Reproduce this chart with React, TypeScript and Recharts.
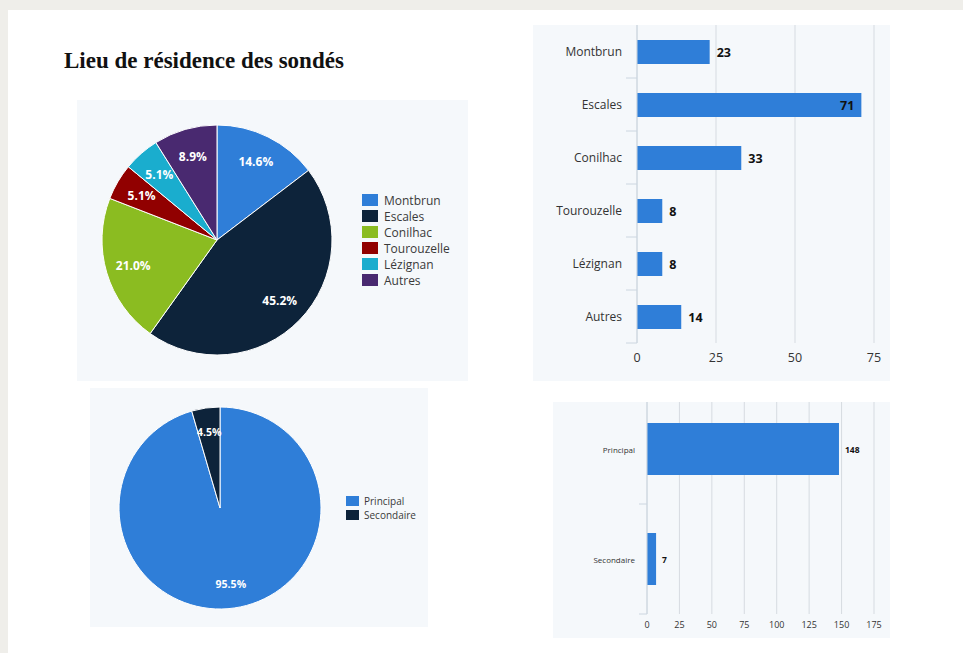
import React from 'react';
import {
  PieChart,
  Pie,
  Cell,
  Legend,
  BarChart,
  Bar,
  XAxis,
  YAxis,
  CartesianGrid,
  LabelList
} from 'recharts';

// lieu de résidence
const communes = ['Montbrun', 'Escales', 'Conilhac', 'Tourouzelle', 'Lézignan', 'Autres'];
const communeCounts = [23, 71, 33, 8, 8, 14];
const communeTicks = [0, 25, 50, 75];

// type de résidence
const residenceTypes = ['Principal', 'Secondaire'];
const residenceCounts = [148, 7];
const residenceTicks = [0, 25, 50, 75, 100, 125, 150, 175];

const palette = ['#2f7ed8', '#0d233a', '#8bbc21', '#910000', '#1aadce', '#492970'];

const communeData = communes.map((name, i) => ({ name, value: communeCounts[i] }));
const residenceData = residenceTypes.map((name, i) => ({ name, value: residenceCounts[i] }));

const FONT = '"Open Sans", sans-serif';
const PANEL_BG = '#f5f8fb';
const GRID = '#d6dbe1';

const pieLabel = (fontSize: number, k: number) => (props: any) => {
  const { cx, cy, midAngle, outerRadius, percent } = props;
  const rad = Math.PI / 180;
  const r = outerRadius * k;
  const x = cx + r * Math.cos(-midAngle * rad);
  const y = cy + r * Math.sin(-midAngle * rad);
  return (
    <text
      x={x}
      y={y}
      fill="#fff"
      fontSize={fontSize}
      fontWeight={700}
      fontFamily={FONT}
      textAnchor="middle"
      dominantBaseline="central"
    >
      {(percent * 100).toFixed(1)}%
    </text>
  );
};

// legend keeps the data order (recharts sorts by name otherwise)
const legendContent = (order: string[], sw: number, sh: number, fontSize: number, rowH: number, gap: number) => (props: any) => {
  const items = [...(props.payload || [])].sort((a: any, b: any) => order.indexOf(a.value) - order.indexOf(b.value));
  return (
    <div style={{ fontFamily: FONT }}>
      {items.map((e: any) => (
        <div key={e.value} style={{ display: 'flex', alignItems: 'center', height: rowH }}>
          <span style={{ width: sw, height: sh, background: e.color, marginRight: gap, display: 'inline-block' }} />
          <span style={{ fontSize, lineHeight: `${rowH - 1}px`, color: '#3a3a3a' }}>{e.value}</span>
        </div>
      ))}
    </div>
  );
};

const categoryTick = (fontSize: number, tickLen: number, gap: number, band: number) => (props: any) => {
  const { x, y, payload } = props;
  return (
    <g>
      <line x1={x - tickLen} x2={x} y1={y + band / 2} y2={y + band / 2} stroke="#ccd6e0" />
      <text
        x={x - gap}
        y={y}
        textAnchor="end"
        dominantBaseline="central"
        fontSize={fontSize}
        fontFamily={FONT}
        fill="#333"
      >
        {payload.value}
      </text>
    </g>
  );
};

const valueLabel = (fontSize: number, gap: number, max: number) => (props: any) => {
  const { x, y, width, height, value } = props;
  const inside = value / max > 0.9;
  return (
    <text
      x={inside ? x + width - gap : x + width + gap}
      y={y + height / 2}
      textAnchor={inside ? 'end' : 'start'}
      dominantBaseline="central"
      fontSize={fontSize}
      fontWeight={700}
      fontFamily={FONT}
      fill="#111"
    >
      {value}
    </text>
  );
};

export default function App() {
  return (
    <div style={{ position: 'fixed', left: 0, top: 0, width: 963, height: 653, background: '#efeeea', overflow: 'hidden' }}>
      <div style={{ position: 'absolute', left: 8, top: 10, width: 955, height: 643, background: '#fff' }} />

      <div
        style={{
          position: 'absolute',
          left: 64,
          top: 49,
          fontFamily: '"Liberation Serif", serif',
          fontWeight: 700,
          fontSize: 23,
          lineHeight: '23px',
          color: '#111',
          whiteSpace: 'nowrap'
        }}
      >
        Lieu de résidence des sondés
      </div>

      {/* camembert communes */}
      <div style={{ position: 'absolute', left: 77, top: 100, width: 391, height: 281, background: PANEL_BG }}>
        <PieChart width={391} height={281} margin={{ top: 0, right: 0, bottom: 0, left: 0 }}>
          <Pie
            data={communeData}
            dataKey="value"
            nameKey="name"
            cx={140}
            cy={140}
            outerRadius={115}
            startAngle={90}
            endAngle={-270}
            stroke="#fff"
            strokeWidth={1}
            labelLine={false}
            label={pieLabel(12, 0.76)}
            isAnimationActive={false}
          >
            {communeData.map((d, i) => (
              <Cell key={d.name} fill={palette[i]} />
            ))}
          </Pie>
          <Legend
            layout="vertical"
            align="right"
            verticalAlign="top"
            wrapperStyle={{ left: 285, top: 92, right: 'auto', width: 'auto' }}
            content={legendContent(communes, 16, 12, 12, 16, 6)}
          />
        </PieChart>
      </div>

      {/* barres communes */}
      <div style={{ position: 'absolute', left: 533, top: 25, width: 357, height: 356, background: PANEL_BG }}>
        <BarChart
          width={357}
          height={356}
          data={communeData}
          layout="vertical"
          margin={{ top: 0, right: 16, bottom: 0, left: 0 }}
        >
          <CartesianGrid horizontal={false} stroke={GRID} />
          <XAxis
            type="number"
            domain={[0, 75]}
            ticks={communeTicks}
            height={38}
            axisLine={false}
            tickLine={false}
            tickSize={0}
            tickMargin={10}
            tick={{ fontSize: 12.5, fill: '#333', fontFamily: FONT }}
          />
          <YAxis
            type="category"
            dataKey="name"
            width={104}
            axisLine={{ stroke: '#ccd6e0' }}
            tickLine={false}
            tickSize={0}
            tickMargin={0}
            tick={categoryTick(12, 11, 15, 53)}
          />
          <Bar dataKey="value" fill={palette[0]} barSize={24} isAnimationActive={false}>
            <LabelList dataKey="value" content={valueLabel(12.5, 7, 75)} />
          </Bar>
        </BarChart>
      </div>

      {/* camembert type de résidence */}
      <div style={{ position: 'absolute', left: 90, top: 388, width: 338, height: 239, background: PANEL_BG }}>
        <PieChart width={338} height={239} margin={{ top: 0, right: 0, bottom: 0, left: 0 }}>
          <Pie
            data={residenceData}
            dataKey="value"
            nameKey="name"
            cx={130}
            cy={120}
            outerRadius={101}
            startAngle={90}
            endAngle={-270}
            stroke="#fff"
            strokeWidth={1}
            labelLine={false}
            label={pieLabel(10.5, 0.76)}
            isAnimationActive={false}
          >
            {residenceData.map((d, i) => (
              <Cell key={d.name} fill={palette[i]} />
            ))}
          </Pie>
          <Legend
            layout="vertical"
            align="right"
            verticalAlign="top"
            wrapperStyle={{ left: 256, top: 106, right: 'auto', width: 'auto' }}
            content={legendContent(residenceTypes, 13, 10, 10, 14, 5)}
          />
        </PieChart>
      </div>

      {/* barres type de résidence */}
      <div style={{ position: 'absolute', left: 553, top: 402, width: 337, height: 236, background: PANEL_BG, overflow: 'hidden' }}>
        <div style={{ position: 'absolute', left: 0, top: -8 }}>
          <BarChart
            width={337}
            height={244}
            data={residenceData}
            layout="vertical"
            margin={{ top: 0, right: 16, bottom: 0, left: 0 }}
          >
            <CartesianGrid horizontal={false} stroke={GRID} />
            <XAxis
              type="number"
              domain={[0, 175]}
              ticks={residenceTicks}
              height={24}
              axisLine={false}
              tickLine={false}
              tickSize={0}
              tickMargin={8}
              tick={{ fontSize: 9, fill: '#333', fontFamily: FONT }}
            />
            <YAxis
              type="category"
              dataKey="name"
              width={94}
              axisLine={{ stroke: '#ccd6e0' }}
              tickLine={false}
              tickSize={0}
              tickMargin={0}
              tick={categoryTick(8, 8, 12, 110)}
            />
            <Bar dataKey="value" fill={palette[0]} barSize={52} isAnimationActive={false}>
              <LabelList dataKey="value" content={valueLabel(8.5, 6, 175)} />
            </Bar>
          </BarChart>
        </div>
      </div>
    </div>
  );
}
